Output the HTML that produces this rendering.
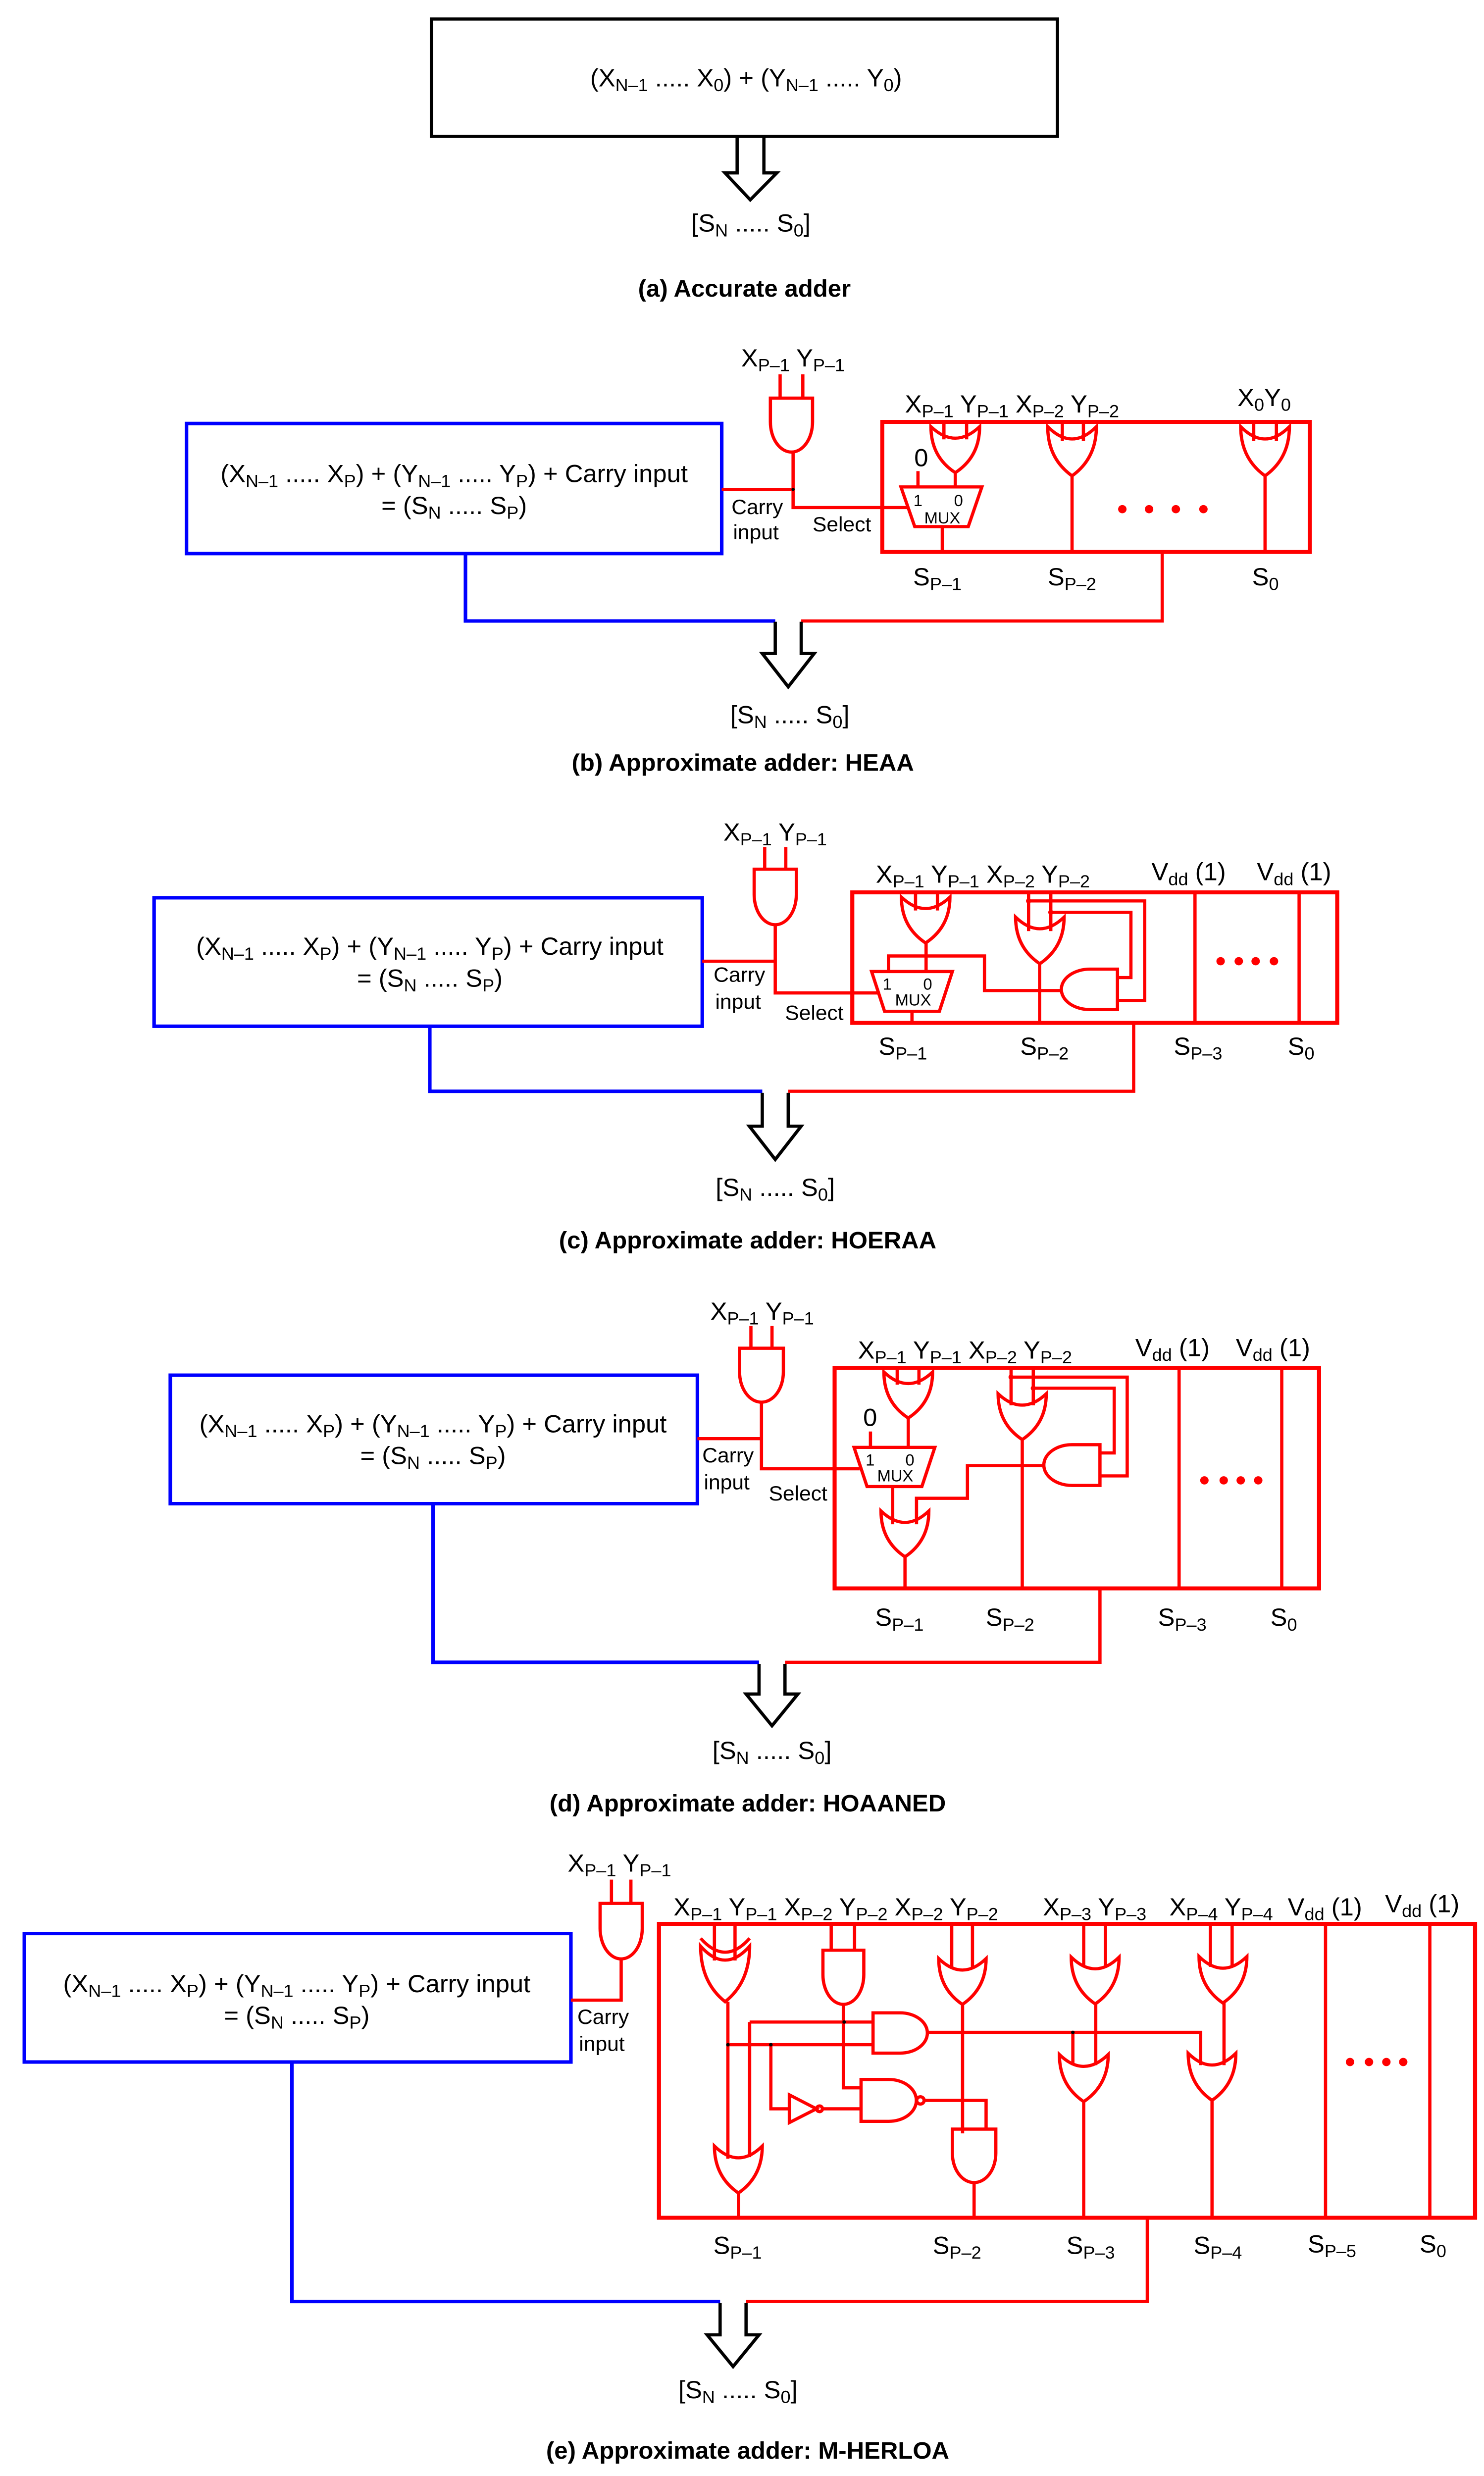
<!DOCTYPE html>
<html><head><meta charset="utf-8"><style>
html,body{margin:0;padding:0;background:#fff;width:100%;height:100%;overflow:hidden;}
svg{display:block;position:absolute;left:0;top:0;width:100vw;height:100vh;}
text{font-family:"Liberation Sans",Arial,sans-serif;fill:#000;}
.t{font-size:15.5px;}
.s{font-size:11px;}
.m{font-size:10px;}
.c{font-size:13px;}
.cap{font-size:15px;font-weight:bold;}
.r{stroke:#f00;stroke-width:2;fill:none;}
.rb{stroke:#f00;stroke-width:2.5;fill:none;}
.bl{stroke:#00f;stroke-width:2.2;fill:none;}
.k{stroke:#000;stroke-width:2;fill:none;}
.d{fill:#f00;}
.j{fill:#000;}
</style></head><body>
<svg viewBox="0 0 915 1561" preserveAspectRatio="none" xmlns="http://www.w3.org/2000/svg">
<rect x="0" y="0" width="915" height="1561" fill="#fff"/>

<!-- ===== (a) ===== -->
<rect x="266" y="12" width="386" height="74" class="k" stroke-width="2.2"/>
<text class="t" x="460" y="54.5" text-anchor="middle">(X<tspan class="s" dy="3">N–1</tspan><tspan dy="-3"> ..... X</tspan><tspan class="s" dy="3">0</tspan><tspan dy="-3">) + (Y</tspan><tspan class="s" dy="3">N–1</tspan><tspan dy="-3"> ..... Y</tspan><tspan class="s" dy="3">0</tspan><tspan dy="-3">)</tspan></text>
<polyline class="k" points="454.5,86 454.5,109 447,109 462.6,126 479,109 471,109 471,86"/>
<text class="t" x="463" y="146" text-anchor="middle">[S<tspan class="s" dy="3">N</tspan><tspan dy="-3"> ..... S</tspan><tspan class="s" dy="3">0</tspan><tspan dy="-3">]</tspan></text>
<text class="cap" x="459" y="187" text-anchor="middle">(a) Accurate adder</text>

<!-- ===== (b) ===== -->
<rect x="115" y="267" width="330" height="82" class="bl"/>
<text class="t" x="280" y="304" text-anchor="middle">(X<tspan class="s" dy="3">N–1</tspan><tspan dy="-3"> ..... X</tspan><tspan class="s" dy="3">P</tspan><tspan dy="-3">) + (Y</tspan><tspan class="s" dy="3">N–1</tspan><tspan dy="-3"> ..... Y</tspan><tspan class="s" dy="3">P</tspan><tspan dy="-3">) + Carry input</tspan></text>
<text class="t" x="280" y="324" text-anchor="middle">= (S<tspan class="s" dy="3">N</tspan><tspan dy="-3"> ..... S</tspan><tspan class="s" dy="3">P</tspan><tspan dy="-3">)</tspan></text>
<text class="t" x="457" y="231">X<tspan class="s" dy="3">P–1</tspan><tspan dy="-3"> Y</tspan><tspan class="s" dy="3">P–1</tspan></text>
<path class="r" d="M481 236V251M495 236V251"/>
<path class="r" d="M475 251H501V266A13 19 0 0 1 475 266Z"/>
<path class="r" d="M445 308.5H489M489 285V320H560"/>
<circle class="j" cx="489" cy="308.5" r="1"/>
<text class="c" x="451" y="324">Carry</text>
<text class="c" x="452" y="340">input</text>
<text class="c" x="501" y="335">Select</text>
<rect x="544" y="266" width="263.6" height="82" class="rb"/>
<text class="t" x="558" y="260">X<tspan class="s" dy="3">P–1</tspan><tspan dy="-3"> Y</tspan><tspan class="s" dy="3">P–1</tspan><tspan dy="-3"> X</tspan><tspan class="s" dy="3">P–2</tspan><tspan dy="-3"> Y</tspan><tspan class="s" dy="3">P–2</tspan></text>
<text class="t" x="763" y="256">X<tspan class="s" dy="3">0</tspan><tspan dy="-3">Y</tspan><tspan class="s" dy="3">0</tspan></text>
<path class="r" d="M582 266V277M596 266V277M655 266V278M668 266V278M773 266V278M787 266V278"/>
<path class="r" d="M574 269Q589 283.5 604 269Q604 288 589 298Q574 288 574 269Z"/>
<path class="r" d="M646 269Q661 284.5 676 269Q676 289 661 300Q646 289 646 269Z"/>
<path class="r" d="M765 269Q780 284.5 795 269Q795 289 780 300Q765 289 765 269Z"/>
<path class="r" d="M589 298V307M661 300V348M780 300V348M566 297V307M581 332V348"/>
<polygon class="r" points="555.5,307 605.4,307 597,332 564,332"/>
<text class="t" x="568" y="294" text-anchor="middle">0</text>
<text class="m" x="566" y="319" text-anchor="middle">1</text>
<text class="m" x="591" y="319" text-anchor="middle">0</text>
<text class="m" x="581" y="330" text-anchor="middle">MUX</text>
<circle class="d" cx="692" cy="321" r="2.6"/><circle class="d" cx="708.5" cy="321" r="2.6"/><circle class="d" cx="725" cy="321" r="2.6"/><circle class="d" cx="742" cy="321" r="2.6"/>
<text class="t" x="563" y="369">S<tspan class="s" dy="3">P–1</tspan></text>
<text class="t" x="646" y="369">S<tspan class="s" dy="3">P–2</tspan></text>
<text class="t" x="772" y="369">S<tspan class="s" dy="3">0</tspan></text>
<path class="r" d="M716.6 348V391.5H494"/>
<path class="bl" d="M287 349V391.5H478"/>
<polyline class="k" points="478,392 478,412 470,412 486,433 502,412 494,412 494,392"/>
<text class="t" x="487" y="456" text-anchor="middle">[S<tspan class="s" dy="3">N</tspan><tspan dy="-3"> ..... S</tspan><tspan class="s" dy="3">0</tspan><tspan dy="-3">]</tspan></text>
<text class="cap" x="458" y="486" text-anchor="middle">(b) Approximate adder: HEAA</text>

<!-- ===== (c) ===== -->
<rect x="95" y="566" width="338" height="81" class="bl"/>
<text class="t" x="265" y="602" text-anchor="middle">(X<tspan class="s" dy="3">N–1</tspan><tspan dy="-3"> ..... X</tspan><tspan class="s" dy="3">P</tspan><tspan dy="-3">) + (Y</tspan><tspan class="s" dy="3">N–1</tspan><tspan dy="-3"> ..... Y</tspan><tspan class="s" dy="3">P</tspan><tspan dy="-3">) + Carry input</tspan></text>
<text class="t" x="265" y="622" text-anchor="middle">= (S<tspan class="s" dy="3">N</tspan><tspan dy="-3"> ..... S</tspan><tspan class="s" dy="3">P</tspan><tspan dy="-3">)</tspan></text>
<text class="t" x="446" y="530">X<tspan class="s" dy="3">P–1</tspan><tspan dy="-3"> Y</tspan><tspan class="s" dy="3">P–1</tspan></text>
<path class="r" d="M471.5 534V548M484.5 534V548"/>
<path class="r" d="M465 548H491V564A13 19 0 0 1 465 564Z"/>
<path class="r" d="M433 606H478M478 583V626H541"/>
<text class="c" x="440" y="619">Carry</text>
<text class="c" x="441" y="636">input</text>
<text class="c" x="484" y="643">Select</text>
<rect x="525.5" y="562.6" width="299" height="82.3" class="rb"/>
<text class="t" x="540" y="556.5">X<tspan class="s" dy="3">P–1</tspan><tspan dy="-3"> Y</tspan><tspan class="s" dy="3">P–1</tspan><tspan dy="-3"> X</tspan><tspan class="s" dy="3">P–2</tspan><tspan dy="-3"> Y</tspan><tspan class="s" dy="3">P–2</tspan></text>
<text class="t" x="710" y="555">V<tspan class="s" dy="3">dd</tspan><tspan dy="-3"> (1)</tspan></text>
<text class="t" x="775" y="555">V<tspan class="s" dy="3">dd</tspan><tspan dy="-3"> (1)</tspan></text>
<path class="r" d="M564.5 562.6V574M578 562.6V574M634.2 562.6V587M647.9 562.6V587"/>
<path class="r" d="M555.8 565.6Q570.7 580 585.7 565.6Q585.7 584.4 570.7 594.5Q555.8 584.4 555.8 565.6Z"/>
<path class="r" d="M626.2 578.2Q641.1 592.9 656.1 578.2Q656.1 597.3 641.1 607.6Q626.2 597.3 626.2 578.2Z"/>
<path class="r" d="M571 594.5V612.5M547.8 612.5V602.7H607V624.5H654.4M562.3 637.6V644.9M641 607.6V644.9"/>
<path class="r" d="M634.2 568H705.8V630.7H689M647.9 575.2H697.3V616.3H689"/>
<circle class="d" cx="634.2" cy="568" r="1.6"/><circle class="d" cx="647.9" cy="575.2" r="1.6"/>
<path class="r" d="M689 611V636.5H672A17.6 12.75 0 0 1 672 611Z"/>
<polygon class="r" points="537.4,612.5 587.2,612.5 579.2,637.6 545.4,637.6"/>
<text class="m" x="547" y="624" text-anchor="middle">1</text>
<text class="m" x="572" y="624" text-anchor="middle">0</text>
<text class="m" x="563" y="634" text-anchor="middle">MUX</text>
<path class="r" d="M736.8 562.6V644.9M801 562.6V644.9"/>
<circle class="d" cx="752.6" cy="606" r="2.6"/><circle class="d" cx="763.8" cy="606" r="2.6"/><circle class="d" cx="774.2" cy="606" r="2.6"/><circle class="d" cx="785.5" cy="606" r="2.6"/>
<text class="t" x="541.7" y="665">S<tspan class="s" dy="3">P–1</tspan></text>
<text class="t" x="629" y="665">S<tspan class="s" dy="3">P–2</tspan></text>
<text class="t" x="723.7" y="665">S<tspan class="s" dy="3">P–3</tspan></text>
<text class="t" x="794" y="665">S<tspan class="s" dy="3">0</tspan></text>
<path class="r" d="M699 644.9V688H486"/>
<path class="bl" d="M265 647V688H470"/>
<polyline class="k" points="470,689 470,710 462,710 478,731 494,710 486,710 486,689"/>
<text class="t" x="478" y="754" text-anchor="middle">[S<tspan class="s" dy="3">N</tspan><tspan dy="-3"> ..... S</tspan><tspan class="s" dy="3">0</tspan><tspan dy="-3">]</tspan></text>
<text class="cap" x="461" y="787" text-anchor="middle">(c) Approximate adder: HOERAA</text>

<!-- ===== (d) ===== -->
<rect x="105" y="867" width="325" height="81" class="bl"/>
<text class="t" x="267" y="903" text-anchor="middle">(X<tspan class="s" dy="3">N–1</tspan><tspan dy="-3"> ..... X</tspan><tspan class="s" dy="3">P</tspan><tspan dy="-3">) + (Y</tspan><tspan class="s" dy="3">N–1</tspan><tspan dy="-3"> ..... Y</tspan><tspan class="s" dy="3">P</tspan><tspan dy="-3">) + Carry input</tspan></text>
<text class="t" x="267" y="923" text-anchor="middle">= (S<tspan class="s" dy="3">N</tspan><tspan dy="-3"> ..... S</tspan><tspan class="s" dy="3">P</tspan><tspan dy="-3">)</tspan></text>
<text class="t" x="438" y="832">X<tspan class="s" dy="3">P–1</tspan><tspan dy="-3"> Y</tspan><tspan class="s" dy="3">P–1</tspan></text>
<path class="r" d="M463 836V850M476 836V850"/>
<path class="r" d="M456 850H483V865A13.5 19 0 0 1 456 865Z"/>
<path class="r" d="M430 907H469.5M469.5 884V926H530"/>
<text class="c" x="433" y="922">Carry</text>
<text class="c" x="434" y="939">input</text>
<text class="c" x="474" y="946">Select</text>
<rect x="514.6" y="862.4" width="298.7" height="139" class="rb"/>
<text class="t" x="529" y="856.5">X<tspan class="s" dy="3">P–1</tspan><tspan dy="-3"> Y</tspan><tspan class="s" dy="3">P–1</tspan><tspan dy="-3"> X</tspan><tspan class="s" dy="3">P–2</tspan><tspan dy="-3"> Y</tspan><tspan class="s" dy="3">P–2</tspan></text>
<text class="t" x="700" y="855">V<tspan class="s" dy="3">dd</tspan><tspan dy="-3"> (1)</tspan></text>
<text class="t" x="762" y="855">V<tspan class="s" dy="3">dd</tspan><tspan dy="-3"> (1)</tspan></text>
<path class="r" d="M553.2 862.4V873M566.6 862.4V873M623.4 862.4V886M637.1 862.4V886"/>
<path class="r" d="M545 865Q560 879.5 575 865Q575 884 560 894Q545 884 545 865Z"/>
<path class="r" d="M615.4 878.7Q630.3 893 645.1 878.7Q645.1 897.5 630.3 907.6Q615.4 897.5 615.4 878.7Z"/>
<path class="r" d="M543.2 952.6Q558 967 572.7 952.6Q572.7 971.4 558 981.5Q543.2 971.4 543.2 952.6Z"/>
<path class="r" d="M560 894V912.5M536.7 902.5V912.5M550.4 937.2V961M643.6 924H596.5V944.6H565.1V961M630.3 907.6V1001.4M558 981.5V1001.4"/>
<path class="r" d="M623.4 868.2H695V930.5H678.2M637.1 875.2H687V916H678.2"/>
<circle class="d" cx="623.4" cy="868.2" r="1.6"/><circle class="d" cx="637.1" cy="875.2" r="1.6"/>
<path class="r" d="M678.2 910.8V936.5H661A17.4 12.85 0 0 1 661 910.8Z"/>
<polygon class="r" points="526.6,912.5 576.4,912.5 568.4,937.2 534.6,937.2"/>
<text class="t" x="536.5" y="899" text-anchor="middle">0</text>
<text class="m" x="536.5" y="924" text-anchor="middle">1</text>
<text class="m" x="561" y="924" text-anchor="middle">0</text>
<text class="m" x="552" y="934" text-anchor="middle">MUX</text>
<path class="r" d="M727 862.4V1001.4M790.3 862.4V1001.4"/>
<circle class="d" cx="742.6" cy="933.3" r="2.6"/><circle class="d" cx="754.5" cy="933.3" r="2.6"/><circle class="d" cx="765" cy="933.3" r="2.6"/><circle class="d" cx="775.8" cy="933.3" r="2.6"/>
<text class="t" x="539.6" y="1025">S<tspan class="s" dy="3">P–1</tspan></text>
<text class="t" x="607.8" y="1025">S<tspan class="s" dy="3">P–2</tspan></text>
<text class="t" x="714" y="1025">S<tspan class="s" dy="3">P–3</tspan></text>
<text class="t" x="783.3" y="1025">S<tspan class="s" dy="3">0</tspan></text>
<path class="r" d="M678.2 1001.4V1048H484"/>
<path class="bl" d="M267 948V1048H468"/>
<polyline class="k" points="468,1049 468,1068 460,1068 476,1088 492,1068 484,1068 484,1049"/>
<text class="t" x="476" y="1109" text-anchor="middle">[S<tspan class="s" dy="3">N</tspan><tspan dy="-3"> ..... S</tspan><tspan class="s" dy="3">0</tspan><tspan dy="-3">]</tspan></text>
<text class="cap" x="461" y="1142" text-anchor="middle">(d) Approximate adder: HOAANED</text>

<!-- ===== (e) ===== -->
<rect x="15" y="1219" width="337" height="81" class="bl"/>
<text class="t" x="183" y="1256" text-anchor="middle">(X<tspan class="s" dy="3">N–1</tspan><tspan dy="-3"> ..... X</tspan><tspan class="s" dy="3">P</tspan><tspan dy="-3">) + (Y</tspan><tspan class="s" dy="3">N–1</tspan><tspan dy="-3"> ..... Y</tspan><tspan class="s" dy="3">P</tspan><tspan dy="-3">) + Carry input</tspan></text>
<text class="t" x="183" y="1276" text-anchor="middle">= (S<tspan class="s" dy="3">N</tspan><tspan dy="-3"> ..... S</tspan><tspan class="s" dy="3">P</tspan><tspan dy="-3">)</tspan></text>
<text class="t" x="350" y="1180">X<tspan class="s" dy="3">P–1</tspan><tspan dy="-3"> Y</tspan><tspan class="s" dy="3">P–1</tspan></text>
<path class="r" d="M377 1185V1200M389 1185V1200"/>
<path class="r" d="M370 1200H396V1215.75A13 19.25 0 0 1 370 1215.75Z"/>
<path class="r" d="M383 1235V1261H352"/>
<text class="c" x="356" y="1276">Carry</text>
<text class="c" x="357" y="1293">input</text>
<rect x="406.3" y="1212.9" width="503.2" height="185.3" class="rb"/>
<text class="t" x="415.3" y="1207.6">X<tspan class="s" dy="3">P–1</tspan><tspan dy="-3"> Y</tspan><tspan class="s" dy="3">P–1</tspan><tspan dy="-3"> X</tspan><tspan class="s" dy="3">P–2</tspan><tspan dy="-3"> Y</tspan><tspan class="s" dy="3">P–2</tspan><tspan dy="-3"> X</tspan><tspan class="s" dy="3">P–2</tspan><tspan dy="-3"> Y</tspan><tspan class="s" dy="3">P–2</tspan></text>
<text class="t" x="643" y="1207.6">X<tspan class="s" dy="3">P–3</tspan><tspan dy="-3"> Y</tspan><tspan class="s" dy="3">P–3</tspan></text>
<text class="t" x="721" y="1207.6">X<tspan class="s" dy="3">P–4</tspan><tspan dy="-3"> Y</tspan><tspan class="s" dy="3">P–4</tspan></text>
<text class="t" x="794" y="1207.6">V<tspan class="s" dy="3">dd</tspan><tspan dy="-3"> (1)</tspan></text>
<text class="t" x="854" y="1205.5">V<tspan class="s" dy="3">dd</tspan><tspan dy="-3"> (1)</tspan></text>
<path class="r" d="M440.5 1212.9V1236M453.2 1212.9V1236M512.5 1212.9V1229.5M526.9 1212.9V1229.5M586.8 1212.9V1241M599.6 1212.9V1241M668.2 1212.9V1240M681.6 1212.9V1240M746.3 1212.9V1240M759.7 1212.9V1240"/>
<path class="r" d="M432 1222Q447.1 1239.5 462.2 1222"/>
<path class="r" d="M432 1227Q447.1 1244.5 462.2 1227Q462.2 1249.75 447.1 1262Q432 1249.75 432 1227Z"/>
<path class="r" d="M507.4 1229.5H532.6V1245A12.6 18.7 0 0 1 507.4 1245Z"/>
<path class="r" d="M578.8 1234.8Q593.4 1249.25 608 1234.8Q608 1253.6 593.4 1263.7Q578.8 1253.6 578.8 1234.8Z"/>
<path class="r" d="M660.5 1233.9Q675.3 1248.6 690 1233.9Q690 1253.1 675.3 1263.4Q660.5 1253.1 660.5 1233.9Z"/>
<path class="r" d="M739.3 1233.5Q754 1248.2 768.8 1233.5Q768.8 1252.5 754 1262.8Q739.3 1252.5 739.3 1233.5Z"/>
<path class="r" d="M538.3 1269H555A16.8 12.7 0 0 1 555 1294.4H538.3Z"/>
<path class="r" d="M530.9 1311H548A17 13.2 0 0 1 548 1337.4H530.9Z"/>
<circle class="r" cx="567.5" cy="1324.2" r="2.3"/>
<polygon class="r" points="486.7,1320.7 503.4,1329.5 486.7,1338.2"/>
<circle class="r" cx="505.3" cy="1329.5" r="1.8"/>
<path class="r" d="M587.2 1342.3H614V1357.5A13.4 18.5 0 0 1 587.2 1357.5Z"/>
<path class="r" d="M440.5 1353Q455.3 1367.8 470 1353Q470 1372.2 455.3 1382.6Q440.5 1372.2 440.5 1353Z"/>
<path class="r" d="M653.2 1295.3Q668.2 1310.2 683.3 1295.3Q683.3 1314.6 668.2 1325Q653.2 1314.6 653.2 1295.3Z"/>
<path class="r" d="M732.6 1294.5Q747.3 1309.3 762 1294.5Q762 1313.8 747.3 1324.2Q732.6 1313.8 732.6 1294.5Z"/>
<path class="r" d="M448.8 1262V1361M462.2 1274.8V1360M462.2 1274.8H538.3M448.8 1289.1H538.3M475.3 1289.1V1329.5H486.7M507.1 1329.5H530.9M520 1263.7V1316.3H530.9"/>
<path class="r" d="M571.8 1281.3H740.3V1302M661.5 1281.3V1302M593.5 1263.7V1345M569.8 1324.2H608V1342.3M675.6 1263.4V1302M754.7 1262.8V1302"/>
<path class="r" d="M455.3 1382.6V1398M600.6 1376V1398M668.2 1325V1398M747.3 1324.2V1398M817.3 1212.9V1398M881.6 1212.9V1398"/>
<circle class="j" cx="520.5" cy="1274.8" r="1.1"/><circle class="j" cx="448.8" cy="1289.1" r="1.1"/><circle class="j" cx="475.3" cy="1289.1" r="1.1"/><circle class="j" cx="661.5" cy="1281.3" r="1.1"/>
<circle class="d" cx="832.4" cy="1300" r="2.6"/><circle class="d" cx="844.1" cy="1300" r="2.6"/><circle class="d" cx="854.8" cy="1300" r="2.6"/><circle class="d" cx="865.2" cy="1300" r="2.6"/>
<text class="t" x="439.8" y="1421">S<tspan class="s" dy="3">P–1</tspan></text>
<text class="t" x="575.1" y="1421">S<tspan class="s" dy="3">P–2</tspan></text>
<text class="t" x="657.5" y="1421">S<tspan class="s" dy="3">P–3</tspan></text>
<text class="t" x="735.9" y="1421">S<tspan class="s" dy="3">P–4</tspan></text>
<text class="t" x="806.3" y="1420">S<tspan class="s" dy="3">P–5</tspan></text>
<text class="t" x="875.3" y="1420">S<tspan class="s" dy="3">0</tspan></text>
<path class="r" d="M707.4 1398V1451H460"/>
<path class="bl" d="M180 1300V1451H444"/>
<polyline class="k" points="444,1452 444,1472 436,1472 452,1492 468,1472 460,1472 460,1452"/>
<text class="t" x="455" y="1512" text-anchor="middle">[S<tspan class="s" dy="3">N</tspan><tspan dy="-3"> ..... S</tspan><tspan class="s" dy="3">0</tspan><tspan dy="-3">]</tspan></text>
<text class="cap" x="461" y="1550" text-anchor="middle">(e) Approximate adder: M-HERLOA</text>
</svg>
</body></html>
